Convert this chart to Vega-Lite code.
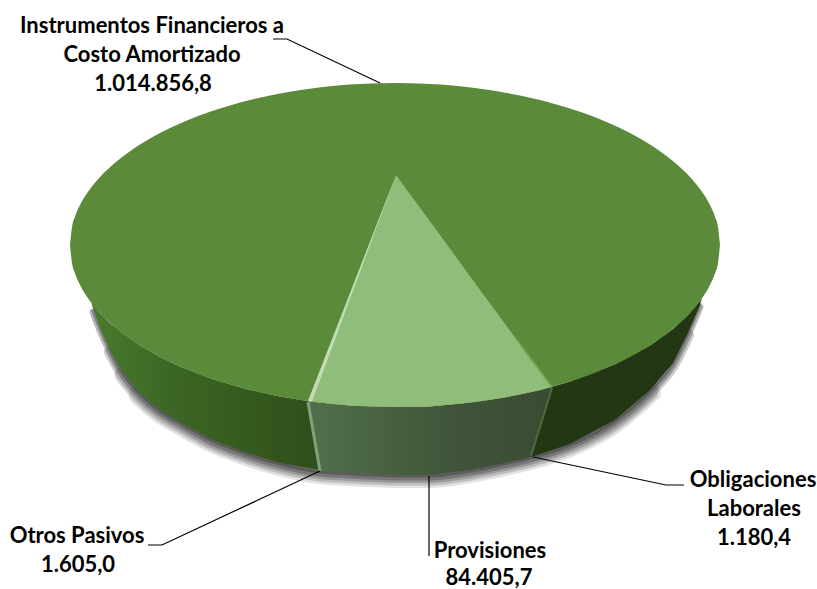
{
"$schema":"https://vega.github.io/schema/vega-lite/v6.json",
"width":817,"height":589,"padding":0,
"autosize":"none",
"background":"white",
"view":{"stroke":null},
"config":{"text":{"font":"Lato"}},
"datasets":{
"top":[{"x":70,"y":245,"y2":245},{"x":72,"y":227,"y2":263},{"x":75,"y":216.7,"y2":273.3},{"x":80,"y":205.1,"y2":284.9},{"x":90,"y":189.1,"y2":300.9},{"x":100,"y":177,"y2":313},{"x":115,"y":162.8,"y2":327.2},{"x":130,"y":151.2,"y2":338.8},{"x":150,"y":138.5,"y2":351.5},{"x":170,"y":128.1,"y2":361.9},{"x":190,"y":119.3,"y2":370.7},{"x":210,"y":111.8,"y2":378.2},{"x":230,"y":105.4,"y2":384.6},{"x":250,"y":100,"y2":390},{"x":270,"y":95.5,"y2":394.5},{"x":290,"y":91.7,"y2":398.3},{"x":308,"y":88.9,"y2":401.1},{"x":330,"y":86.3,"y2":403.7},{"x":350,"y":84.6,"y2":405.4},{"x":370,"y":83.5,"y2":406.5},{"x":395,"y":83,"y2":407},{"x":420,"y":83.5,"y2":406.5},{"x":440,"y":84.6,"y2":405.4},{"x":460,"y":86.3,"y2":403.7},{"x":482,"y":88.9,"y2":401.1},{"x":500,"y":91.7,"y2":398.3},{"x":520,"y":95.5,"y2":394.5},{"x":540,"y":100,"y2":390},{"x":552,"y":103.2,"y2":386.8},{"x":580,"y":111.8,"y2":378.2},{"x":600,"y":119.3,"y2":370.7},{"x":620,"y":128.1,"y2":361.9},{"x":640,"y":138.5,"y2":351.5},{"x":660,"y":151.2,"y2":338.8},{"x":675,"y":162.8,"y2":327.2},{"x":690,"y":177,"y2":313},{"x":700,"y":189.1,"y2":300.9},{"x":710,"y":205.1,"y2":284.9},{"x":715,"y":216.7,"y2":273.3},{"x":718,"y":227,"y2":263},{"x":720,"y":245,"y2":245}],
"wedgeTop":[{"x":308,"y":401.1,"y2":401.1},{"x":330,"y":344.2,"y2":403.7},{"x":350,"y":293,"y2":405.4},{"x":370,"y":241.8,"y2":406.5},{"x":396,"y":175,"y2":407},{"x":420,"y":207.8,"y2":406.5},{"x":440,"y":235.1,"y2":405.4},{"x":460,"y":262.4,"y2":403.7},{"x":482,"y":292.4,"y2":401.1},{"x":500,"y":317,"y2":398.3},{"x":520,"y":344.3,"y2":394.5},{"x":540,"y":371.6,"y2":390},{"x":552,"y":386.8,"y2":386.8}],
"wedgeEdge":[{"x":308,"y":401.1,"y2":401.1},{"x":312,"y":391,"y2":401.5},{"x":396,"y":175,"y2":175}],
"sideLeft":[{"x":91,"y":302.4,"y2":302.4},{"x":100,"y":313,"y2":328},{"x":110,"y":322.9,"y2":350},{"x":123,"y":333.6,"y2":373},{"x":140,"y":345.4,"y2":393},{"x":160,"y":356.9,"y2":410},{"x":180,"y":366.5,"y2":422},{"x":213,"y":379.3,"y2":440},{"x":247,"y":389.2,"y2":453},{"x":280,"y":396.5,"y2":463},{"x":308,"y":401.1,"y2":468},{"x":317,"y":452.8,"y2":469.5},{"x":320,"y":471,"y2":471}],
"sideLight":[{"x":308,"y":401.1,"y2":401.1},{"x":317,"y":402.3,"y2":452.8},{"x":320,"y":402.6,"y2":471},{"x":350,"y":405.4,"y2":473},{"x":400,"y":407,"y2":475},{"x":430,"y":406.4,"y2":475},{"x":470,"y":402.6,"y2":470},{"x":500,"y":398.3,"y2":464},{"x":531,"y":392.1,"y2":457},{"x":540,"y":390,"y2":427},{"x":552,"y":386.8,"y2":386.8}],
"sideRight":[{"x":531,"y":457,"y2":457},{"x":540,"y":427,"y2":454},{"x":552,"y":386.8,"y2":450},{"x":570,"y":381.5,"y2":444},{"x":615,"y":364.2,"y2":420},{"x":650,"y":345.4,"y2":390},{"x":673,"y":328.9,"y2":363},{"x":688,"y":315.1,"y2":333},{"x":700,"y":300.9,"y2":305},{"x":702,"y":298,"y2":298}],
"rim":[{"x":93,"y":310},{"x":100,"y":328},{"x":110,"y":350},{"x":123,"y":373},{"x":140,"y":393},{"x":160,"y":410},{"x":180,"y":422},{"x":213,"y":440},{"x":247,"y":453},{"x":280,"y":463},{"x":320,"y":471},{"x":350,"y":473},{"x":400,"y":475},{"x":430,"y":475},{"x":470,"y":470},{"x":500,"y":464},{"x":530,"y":457},{"x":570,"y":444},{"x":615,"y":420},{"x":650,"y":390},{"x":673,"y":363},{"x":688,"y":333},{"x":700,"y":305}],
"edges":[{"edge":"a","i":0,"x":308,"y":402},{"edge":"a","i":1,"x":320,"y":471}],
"edges2":[{"edge":"b","i":0,"x":552,"y":388},{"edge":"b","i":1,"x":531,"y":456}],
"edges3":[{"edge":"c","i":0,"x":552,"y":387},{"edge":"c","i":1,"x":517,"y":340}],
"leaders":[
{"label":"Instrumentos","i":0,"x":273,"y":39},{"label":"Instrumentos","i":1,"x":287,"y":39},{"label":"Instrumentos","i":2,"x":380,"y":83},
{"label":"Obligaciones","i":0,"x":533,"y":457},{"label":"Obligaciones","i":1,"x":666,"y":485},{"label":"Obligaciones","i":2,"x":684,"y":485},
{"label":"Otros","i":0,"x":320,"y":471},{"label":"Otros","i":1,"x":162,"y":545},{"label":"Otros","i":2,"x":148,"y":545},
{"label":"Provisiones","i":0,"x":429,"y":476},{"label":"Provisiones","i":1,"x":429,"y":556}],
"labels":[
{"text":"Instrumentos Financieros a","x":152,"y":26},
{"text":"Costo Amortizado","x":152,"y":55},
{"text":"1.014.856,8","x":153,"y":84},
{"text":"Obligaciones","x":753,"y":480},
{"text":"Laborales","x":754,"y":509},
{"text":"1.180,4","x":754,"y":538},
{"text":"Otros Pasivos","x":77,"y":536},
{"text":"1.605,0","x":78,"y":565},
{"text":"Provisiones","x":490,"y":551},
{"text":"84.405,7","x":489,"y":578}]
},
"encoding":{
"x":{"field":"x","type":"quantitative","scale":{"domain":[0,817],"nice":false,"zero":false},"axis":null,"title":null},
"y":{"field":"y","type":"quantitative","scale":{"domain":[589,0],"nice":false,"zero":false},"axis":null,"title":null}
},
"layer":[
{"data":{"name":"rim"},"transform":[{"filter":"datum.x>=135 && datum.x<=655"}],"mark":{"type":"line","color":"#333333","opacity":0.14,"strokeWidth":22,"strokeCap":"round","yOffset":2,"interpolate":"monotone"}},
{"data":{"name":"rim"},"transform":[{"filter":"datum.x>=120 && datum.x<=672"}],"mark":{"type":"line","color":"#333333","opacity":0.2,"strokeWidth":17,"strokeCap":"round","yOffset":2,"interpolate":"monotone"}},
{"data":{"name":"rim"},"transform":[{"filter":"datum.x>=105 && datum.x<=688"}],"mark":{"type":"line","color":"#333333","opacity":0.25,"strokeWidth":12,"strokeCap":"round","yOffset":2,"interpolate":"monotone"}},
{"data":{"name":"rim"},"mark":{"type":"line","color":"#333333","opacity":0.35,"strokeWidth":7,"strokeCap":"round","yOffset":2,"interpolate":"monotone"}},
{"data":{"name":"rim"},"mark":{"type":"line","color":"#333333","opacity":0.4,"strokeWidth":3,"strokeCap":"round","yOffset":1,"interpolate":"monotone"}},
{"data":{"name":"sideLeft"},"mark":{"type":"area","color":{"gradient":"linear","x1":0,"y1":0,"x2":1,"y2":0,"stops":[{"offset":0,"color":"#4a7a2e"},{"offset":0.35,"color":"#3c6624"},{"offset":1,"color":"#2f4e1a"}]}},"encoding":{"y2":{"field":"y2"}}},
{"data":{"name":"sideRight"},"mark":{"type":"area","color":"#243714"},"encoding":{"y2":{"field":"y2"}}},
{"data":{"name":"sideLight"},"mark":{"type":"area","color":{"gradient":"linear","x1":0,"y1":0,"x2":1,"y2":0,"stops":[{"offset":0,"color":"#52704b"},{"offset":0.6,"color":"#3f5439"},{"offset":1,"color":"#394c33"}]}},"encoding":{"y2":{"field":"y2"}}},
{"data":{"name":"top"},"mark":{"type":"area","color":"#5a8a3a","interpolate":"monotone"},"encoding":{"y2":{"field":"y2"}}},
{"data":{"name":"wedgeTop"},"mark":{"type":"area","color":"#91bd7a"},"encoding":{"y2":{"field":"y2"}}},
{"data":{"name":"wedgeEdge"},"mark":{"type":"area","color":"#c4dcb6"},"encoding":{"y2":{"field":"y2"}}},
{"data":{"name":"edges"},"mark":{"type":"line","color":"#82a07c","strokeWidth":3},"encoding":{"order":{"field":"i"}}},
{"data":{"name":"edges2"},"mark":{"type":"line","color":"#4d6b3c","strokeWidth":2},"encoding":{"order":{"field":"i"}}},
{"data":{"name":"edges3"},"mark":{"type":"line","color":"#70a650","strokeWidth":2},"encoding":{"order":{"field":"i"}}},
{"data":{"name":"leaders"},"mark":{"type":"line","color":"#000000","strokeWidth":1.2},"encoding":{"detail":{"field":"label"},"order":{"field":"i"}}},
{"data":{"name":"labels"},"mark":{"type":"text","font":"Lato","fontWeight":"bold","fontSize":22,"color":"#000000","align":"center","baseline":"middle"},"encoding":{"text":{"field":"text"}}}
]
}
